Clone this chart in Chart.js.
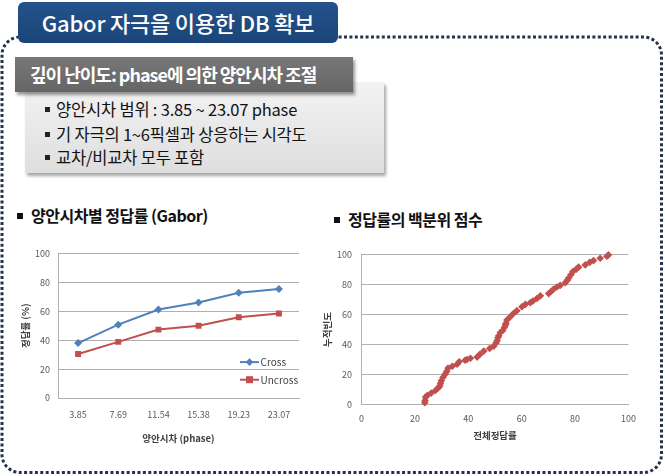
<!DOCTYPE html>
<html>
<head>
<meta charset="utf-8">
<script src="https://cdn.jsdelivr.net/npm/chart.js@4.4.0/dist/chart.umd.min.js"></script>
<style>
  html, body { margin:0; padding:0; background:#fff; }
  body { width:665px; height:476px; position:relative; overflow:hidden; font-family:"Noto Sans CJK KR", "Noto Sans", sans-serif; }
  #border { position:absolute; left:0; top:0; }
  #titleBox { position:absolute; left:18px; top:2px; width:320px; height:41px; background:linear-gradient(#24528c,#1b4579); border-radius:6px; color:#fff; font-size:22px; font-weight:500; line-height:41px; text-align:center; letter-spacing:-0.2px; }
  #lightBox { position:absolute; left:25px; top:82px; width:359px; height:91px; background:linear-gradient(#f3f3f3,#dedede); box-shadow:2px 3px 3px rgba(0,0,0,0.35); }
  #header { position:absolute; left:15px; top:57px; width:338px; height:35px; background:linear-gradient(#777,#666); box-shadow:2px 3px 3px rgba(0,0,0,0.4); color:#fff; font-size:18px; font-weight:700; line-height:35px; padding-left:15px; box-sizing:border-box; letter-spacing:-1px; white-space:nowrap; }
  .bullet { position:absolute; left:45px; font-size:16.5px; color:#111; white-space:nowrap; letter-spacing:-0.2px; }
  .bullet::before { content:""; display:inline-block; width:5px; height:5px; background:#222; margin-right:6px; vertical-align:middle; position:relative; top:-2px; }
  .ctitle { position:absolute; font-size:16px; font-weight:700; color:#111; white-space:nowrap; letter-spacing:-0.5px; }
  .ctitle::before { content:""; display:inline-block; width:6px; height:6px; background:#111; margin-right:8px; vertical-align:middle; position:relative; top:-2px; }
  canvas { position:absolute; }
</style>
</head>
<body>
<svg id="border" width="665" height="476">
  <rect x="2" y="37" width="659.5" height="435.5" rx="18" ry="18" fill="none" stroke="#24324a" stroke-width="3" stroke-dasharray="3 2.4"/>
</svg>
<div id="titleBox">Gabor 자극을 이용한 DB 확보</div>
<div id="lightBox"></div>
<div id="header">깊이 난이도: phase에 의한 양안시차 조절</div>
<div class="bullet" style="top:97px">양안시차 범위 : 3.85 ~ 23.07 phase</div>
<div class="bullet" style="top:122px">기 자극의 1~6픽셀과 상응하는 시각도</div>
<div class="bullet" style="top:145px">교차/비교차 모두 포함</div>
<div class="ctitle" style="left:17px; top:203px">양안시차별 정답률 (Gabor)</div>
<div class="ctitle" style="left:334px; top:207px">정답률의 백분위 점수</div>
<canvas id="c1" width="295" height="210" style="left:15px; top:240px; width:295px; height:210px"></canvas>
<canvas id="c2" width="323" height="210" style="left:322px; top:240px; width:323px; height:210px"></canvas>
<script>
// ---- data ----
const disparityLabels = ['3.85', '7.69', '11.54', '15.38', '19.23', '23.07'];
const crossValues = [38.0, 50.7, 61.2, 66.0, 72.8, 75.3];
const uncrossValues = [30.4, 38.8, 47.3, 50.0, 55.9, 58.4];
const yTickValues = [0, 20, 40, 60, 80, 100];
// percentile chart: overall correct rate (x) vs cumulative frequency (y)
const overallCorrect = [23.7, 23.8, 24.0, 24.6, 26.1, 27.7, 28.6, 29.3, 29.6, 29.9, 30.5, 31.4, 31.9, 32.4, 34.0, 35.8, 36.6, 38.8, 39.5, 40.8, 43.3, 44.3, 45.8, 48.0, 49.5, 50.4, 50.8, 51.1, 51.4, 52.0, 52.9, 53.5, 53.9, 54.1, 54.5, 55.8, 57.0, 58.2, 60.1, 61.4, 63.2, 64.2, 65.7, 67.0, 70.1, 71.0, 71.9, 73.2, 74.4, 76.3, 77.1, 77.6, 78.4, 79.2, 80.5, 81.3, 83.8, 85.5, 86.9, 89.4, 91.9, 92.5];
const cumulativeFreq = [1.0, 2.5, 4.8, 5.9, 7.5, 9.2, 10.8, 12.1, 14.0, 15.8, 18.0, 20.2, 22.0, 24.2, 25.5, 26.8, 28.5, 29.5, 30.0, 30.8, 31.6, 33.4, 35.6, 37.3, 38.9, 41.1, 42.6, 44.5, 45.9, 48.1, 49.4, 51.4, 53.0, 54.3, 56.5, 58.7, 60.9, 62.7, 65.3, 66.9, 68.0, 69.1, 70.8, 72.6, 74.1, 75.5, 77.0, 78.5, 79.6, 81.4, 83.0, 84.5, 86.7, 88.9, 90.5, 91.8, 93.3, 95.0, 96.2, 97.8, 99.1, 100.0];

const BLUE = '#4f81bd', RED = '#c0504d';
const tickFont = { family: '"Noto Sans CJK KR", sans-serif', size: 9 };
const titleFont = { family: '"Noto Sans CJK KR", sans-serif', size: 9.5, weight: 'bold' };
const gridColor = '#b0b0b0';

const insideLegend = {
  id: 'insideLegend',
  afterDatasetsDraw(chart) {
    const ctx = chart.ctx, a = chart.chartArea;
    chart.data.datasets.forEach((ds, i) => {
      const y = a.top + 108.7 + i * 17.6;
      const x0 = a.right - 59, x1 = a.right - 40, xm = (x0 + x1) / 2;
      ctx.save();
      ctx.strokeStyle = ds.borderColor; ctx.lineWidth = 2;
      ctx.beginPath(); ctx.moveTo(x0, y); ctx.lineTo(x1, y); ctx.stroke();
      ctx.fillStyle = ds.backgroundColor;
      ctx.beginPath();
      if (ds.pointStyle === 'rectRot') {
        const r = 3.8;
        ctx.moveTo(xm, y - r); ctx.lineTo(xm + r, y); ctx.lineTo(xm, y + r); ctx.lineTo(xm - r, y); ctx.closePath();
      } else {
        ctx.rect(xm - 3.5, y - 3.5, 7, 7);
      }
      ctx.fill();
      ctx.fillStyle = '#404040';
      ctx.font = '10px "Noto Sans CJK KR", sans-serif';
      ctx.textBaseline = 'middle';
      ctx.fillText(ds.label, x1 + 1.5, y + 0.5);
      ctx.restore();
    });
  }
};

new Chart(document.getElementById('c1'), {
  type: 'line',
  data: {
    labels: disparityLabels,
    datasets: [
      { label: 'Cross', data: crossValues, borderColor: BLUE, backgroundColor: BLUE, borderWidth: 2, pointStyle: 'rectRot', pointRadius: 4, pointBorderWidth: 0, tension: 0 },
      { label: 'Uncross', data: uncrossValues, borderColor: RED, backgroundColor: RED, borderWidth: 2, pointStyle: 'rect', pointRadius: 4.2, pointBorderWidth: 0, tension: 0 }
    ]
  },
  options: {
    responsive: false, animation: false,
    layout: { padding: { top: 12, right: 11, left: 0, bottom: 0 } },
    plugins: { legend: { display: false }, tooltip: { enabled: false } },
    scales: {
      x: {
        offset: true,
        grid: { display: false, drawTicks: false },
        border: { display: true, color: gridColor },
        ticks: { font: tickFont, color: '#595959', padding: 11.5, maxRotation: 0 },
        title: { display: true, text: '양안시차 (phase)', font: titleFont, color: '#404040', padding: { top: 0, bottom: 6.3 } },
        afterFit(s) { s.height = 52; }
      },
      y: {
        min: 0, max: 100,
        afterBuildTicks(s) { s.ticks = yTickValues.map(v => ({ value: v })); },
        grid: { color: gridColor, drawTicks: false },
        border: { display: true, color: gridColor },
        ticks: { font: tickFont, color: '#595959', padding: 8 },
        title: { display: true, text: '정답률 (%)', font: titleFont, color: '#404040', padding: { top: 4.5, bottom: 0 } },
        afterFit(s) { s.width = 43; }
      }
    }
  },
  plugins: [insideLegend]
});

new Chart(document.getElementById('c2'), {
  type: 'scatter',
  data: {
    datasets: [{
      label: '백분위',
      data: overallCorrect.map((x, i) => ({ x: x, y: cumulativeFreq[i] })),
      backgroundColor: RED, borderColor: RED, pointStyle: 'rectRot', pointRadius: 3.8, pointBorderWidth: 0, showLine: false, clip: false
    }]
  },
  options: {
    responsive: false, animation: false,
    layout: { padding: { top: 12, right: 16.5, left: 0, bottom: 0 } },
    plugins: { legend: { display: false }, tooltip: { enabled: false } },
    scales: {
      x: {
        type: 'linear', min: 0, max: 100,
        afterBuildTicks(s) { s.ticks = yTickValues.map(v => ({ value: v })); },
        grid: { display: false, drawTicks: false },
        border: { display: true, color: gridColor },
        ticks: { font: tickFont, color: '#595959', padding: 8.7 },
        title: { display: true, text: '전체정답률', font: titleFont, color: '#404040', padding: { top: 0, bottom: 9 } },
        afterFit(s) { s.height = 45.7; }
      },
      y: {
        min: 0, max: 100,
        afterBuildTicks(s) { s.ticks = yTickValues.map(v => ({ value: v })); },
        grid: { color: gridColor, drawTicks: false },
        border: { display: true, color: gridColor },
        ticks: { font: tickFont, color: '#595959', padding: 9.5 },
        title: { display: true, text: '누적빈도', font: titleFont, color: '#404040', padding: { top: 0, bottom: 0 } },
        afterFit(s) { s.width = 39.5; }
      }
    }
  }
});
</script>
</body>
</html>
